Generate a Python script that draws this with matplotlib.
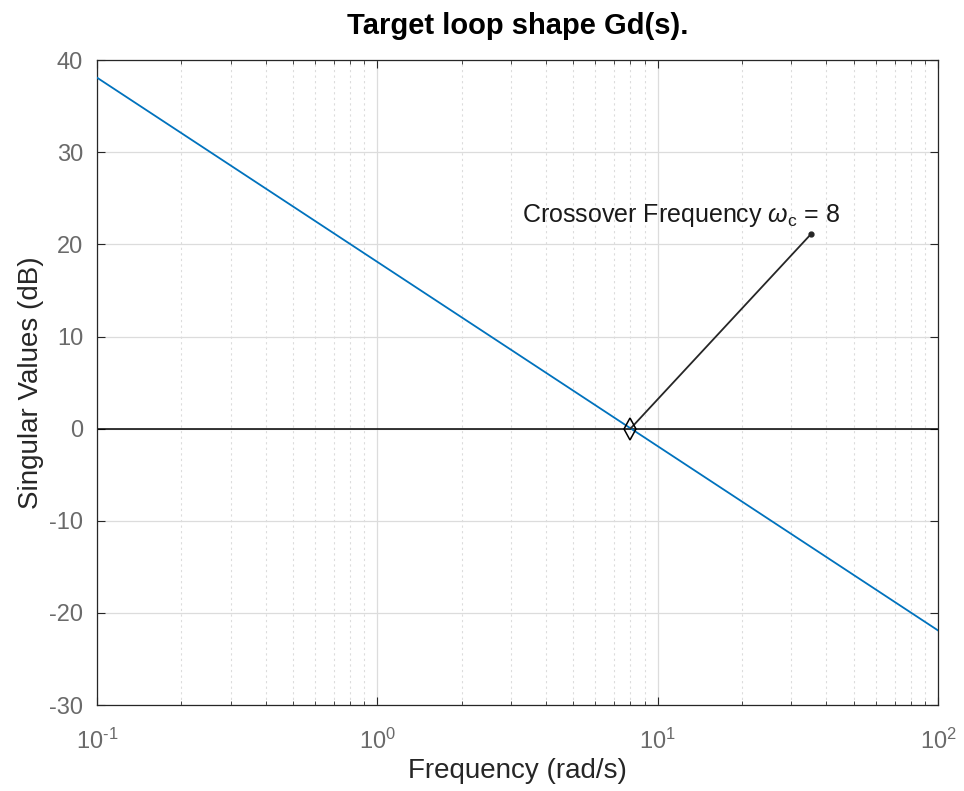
import numpy as np
import matplotlib.pyplot as plt
from matplotlib.ticker import FuncFormatter

# singular value of Gd(s) (straight line on log axes)
freq = [0.1, 1.0, 10.0, 100.0]
sv_db = [38.1, 18.1, -1.9, -21.9]

wc = 8.0
wc_db = 0.0
label_freq = 35.2
label_db = 21.1

plt.rcParams['font.family'] = ['Liberation Sans', 'DejaVu Sans']
plt.rcParams['axes.unicode_minus'] = False
plt.rcParams['mathtext.fontset'] = 'custom'
plt.rcParams['mathtext.rm'] = 'Liberation Sans'
plt.rcParams['mathtext.it'] = 'Liberation Sans:italic'


def decade_label(x, pos):
    e = int(round(np.log10(x)))
    return r'$10^{\text{%d}}$' % e


fig = plt.figure(figsize=(9.64, 7.91), dpi=100)
ax = fig.add_axes([0.1006, 0.1087, 0.8724, 0.8153])

ax.semilogx(freq, sv_db, color='#0072BD', lw=1.3, zorder=3)
ax.axhline(0, color='black', lw=1.1, zorder=2)

# crossover annotation
ax.plot([wc, label_freq], [wc_db, label_db], color='#262626', lw=1.3, zorder=4)
ax.plot(label_freq, label_db, 'o', color='#262626', ms=3.5, zorder=4)
ax.plot(wc, wc_db, 'd', mfc='none', mec='black', ms=11, mew=1.1, zorder=5)
ax.text(12.1, 22.4, r'Crossover Frequency $\omega_{\mathrm{c}}$ = 8',
        ha='center', va='baseline', fontsize=18, color='#1a1a1a')

ax.set_xlim(0.1, 100)
ax.set_ylim(-30, 40)
ax.set_yticks(np.arange(-30, 41, 10))
ax.xaxis.set_major_formatter(FuncFormatter(decade_label))

ax.grid(True, which='major', color='#dcdcdc', lw=0.9, ls='-')
ax.grid(True, which='minor', axis='x', color='#dcdcdc', lw=0.8, ls=(0, (2, 3)))
ax.set_axisbelow(True)

ax.tick_params(which='both', direction='in', top=True, right=True,
               colors='#262626', labelcolor='#6a6a6a', labelsize=17)
ax.tick_params(which='major', length=6)
ax.tick_params(which='minor', length=3)
ax.tick_params(axis='x', which='major', pad=17)
ax.tick_params(axis='y', which='major', pad=10)
for s in ax.spines.values():
    s.set_color('#262626')
    s.set_linewidth(0.9)

ax.set_xlabel('Frequency (rad/s)', fontsize=20, color='#262626', labelpad=3)
ax.set_ylabel('Singular Values (dB)', fontsize=20, color='#262626', labelpad=4)
ax.set_title('Target loop shape Gd(s).', fontsize=21, fontweight='bold', pad=19)

fig.savefig('out.png', dpi=100)
